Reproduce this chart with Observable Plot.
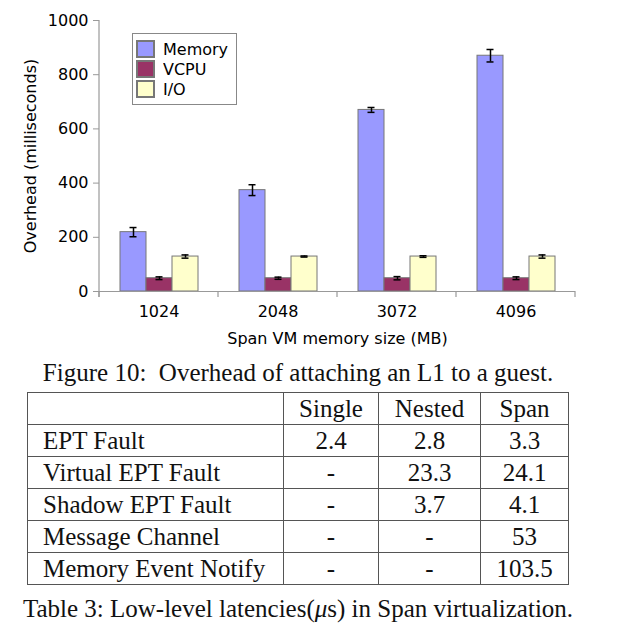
<!DOCTYPE html>
<html><head><meta charset="utf-8">
<script src="https://cdn.jsdelivr.net/npm/d3@7"></script>
<script src="https://cdn.jsdelivr.net/npm/@observablehq/plot@0.6"></script>
<style>
body{margin:0;background:#fff;width:633px;height:629px;position:relative;overflow:hidden}
#chart{position:absolute;left:0;top:0}
#legend{position:absolute;left:132px;top:33px;width:105px;height:72px;box-sizing:border-box;border:1.5px solid #888;padding:5px 0 0 4px;background:#fff}
#legend > div{margin:0 !important;font-family:"DejaVu Sans" !important;font-size:16px !important;color:#000}
#legend > div > div{height:20px !important;padding:0 !important;display:flex !important;align-items:center !important}
#legend svg{margin-right:9px !important;stroke:#777;stroke-width:2px}
.cap{position:absolute;left:0;width:596px;text-align:center;font-family:"Liberation Serif";font-size:25px;line-height:30px;color:#111;white-space:pre}
table{position:absolute;left:27px;top:392px;border-collapse:collapse;table-layout:fixed;font-family:"Liberation Serif";font-size:25px;color:#111}
td{border:1.5px solid #555;height:31px;line-height:31px;padding:0;text-align:center;box-sizing:border-box;white-space:nowrap}
td.l{text-align:left;padding-left:15px}
</style>
</head><body>
<div id="chart"></div>
<div id="legend"></div>
<div class="cap" id="cap1" style="top:358px"></div>
<table id="tbl"></table>
<div class="cap" id="cap2" style="top:594px"></div>
<script>
// ---- chart data ----
const groups = [1024, 2048, 3072, 4096];
const series = ["Memory", "VCPU", "I/O"];
const memory = [219, 374, 670, 870];
const memoryErr = [17, 20, 9, 23];
const vcpu = [49, 49, 49, 49];
const vcpuErr = [5, 4, 6, 5];
const io = [129, 129, 129, 129];
const ioErr = [6, 2, 3, 6];
const colors = ["#9999ff", "#993366", "#ffffcc"];
const yTicks = [0, 200, 400, 600, 800, 1000];
const yLabel = "Overhead (milliseconds)";
const xLabel = "Span VM memory size (MB)";

// ---- table data ----
const tableCols = ["", "Single", "Nested", "Span"];
const tableRows = ["EPT Fault", "Virtual EPT Fault", "Shadow EPT Fault", "Message Channel", "Memory Event Notify"];
const singleVals = ["2.4", "-", "-", "-", "-"];
const nestedVals = ["2.8", "23.3", "3.7", "-", "-"];
const spanVals = ["3.3", "24.1", "4.1", "53", "103.5"];
const figCaption = "Figure 10:  Overhead of attaching an L1 to a guest.";
const tabCaptionPre = "Table 3: Low-level latencies(";
const tabCaptionMu = "μ";
const tabCaptionPost = "s) in Span virtualization.";

const valuesBySeries = [memory, vcpu, io];
const errBySeries = [memoryErr, vcpuErr, ioErr];
const data = groups.flatMap((g, i) => series.map((s, j) => ({
  group: g, series: s, value: valuesBySeries[j][i], err: errBySeries[j][i]
})));

const chart = Plot.plot({
  width: 633, height: 350,
  marginLeft: 98, marginRight: 58, marginTop: 20, marginBottom: 59,
  style: {fontFamily: "DejaVu Sans", fontSize: "16px", color: "#000", background: "#fff", overflow: "visible"},
  fx: {domain: groups, padding: 0},
  x: {domain: series, paddingInner: 0, paddingOuter: 0.74, axis: null},
  y: {domain: [0, 1000]},
  color: {domain: series, range: colors},
  marks: [
    Plot.axisY({ticks: yTicks, tickFormat: d3.format("d"), tickSize: 6, tickPadding: 5, stroke: "#999", label: yLabel, labelAnchor: "center", labelOffset: 75, labelArrow: "none"}),
    Plot.axisFx({anchor: "bottom", tickFormat: d3.format("d"), tickSize: 0, tickPadding: 14, label: xLabel, labelAnchor: "center", labelOffset: 52, labelArrow: "none"}),
    Plot.barY(data, {fx: "group", x: "series", y: "value", fill: "series", stroke: "#777", strokeWidth: 1}),
    Plot.ruleY([0], {stroke: "#999", strokeWidth: 1.2}),
    Plot.ruleX(data, {fx: "group", x: "series", y1: d => d.value - d.err, y2: d => d.value + d.err, stroke: "#000", strokeWidth: 1.5}),
    Plot.tickY(data, {fx: "group", x: "series", y: d => d.value - d.err, stroke: "#000", strokeWidth: 1.5, insetLeft: 9.5, insetRight: 9.5}),
    Plot.tickY(data, {fx: "group", x: "series", y: d => d.value + d.err, stroke: "#000", strokeWidth: 1.5, insetLeft: 9.5, insetRight: 9.5})
  ]
});
document.getElementById("chart").append(chart);

// axis line and group boundary ticks from the library's scales
const fx = chart.scale("fx"), ys = chart.scale("y");
const y0 = ys.apply(0);
const edges = groups.map(g => fx.apply(g)).concat([fx.apply(groups[groups.length - 1]) + fx.bandwidth]);
const gAx = d3.select(chart).append("g").attr("stroke", "#999").attr("stroke-width", 1.2);
gAx.append("line").attr("x1", edges[0]).attr("x2", edges[0]).attr("y1", ys.apply(yTicks[yTicks.length - 1])).attr("y2", y0 + 6);
edges.forEach(x => gAx.append("line").attr("x1", x).attr("x2", x).attr("y1", y0).attr("y2", y0 + 6));

// legend
const leg = Plot.legend({color: {domain: series, range: colors}, legend: "swatches", columns: 1, swatchWidth: 17, swatchHeight: 16,
  style: {fontFamily: "DejaVu Sans", fontSize: "16px"}});
document.getElementById("legend").append(leg);

// captions & table
document.getElementById("cap1").textContent = figCaption;
const cap2 = document.getElementById("cap2");
cap2.append(tabCaptionPre);
const mu = document.createElement("i"); mu.textContent = tabCaptionMu; cap2.append(mu);
cap2.append(tabCaptionPost);

const colWidths = [256, 95, 102, 88];
const tbl = document.getElementById("tbl");
const cg = document.createElement("colgroup");
colWidths.forEach(w => { const c = document.createElement("col"); c.style.width = w + "px"; cg.append(c); });
tbl.append(cg);
tbl.style.width = d3.sum(colWidths) + "px";
const hr = tbl.insertRow();
tableCols.forEach((c, i) => { const td = hr.insertCell(); td.textContent = c; if (i === 0) td.className = "l"; });
tableRows.forEach((r, i) => {
  const tr = tbl.insertRow();
  [r, singleVals[i], nestedVals[i], spanVals[i]].forEach((v, k) => {
    const td = tr.insertCell(); td.textContent = v; if (k === 0) td.className = "l";
  });
});
</script>
</body></html>
